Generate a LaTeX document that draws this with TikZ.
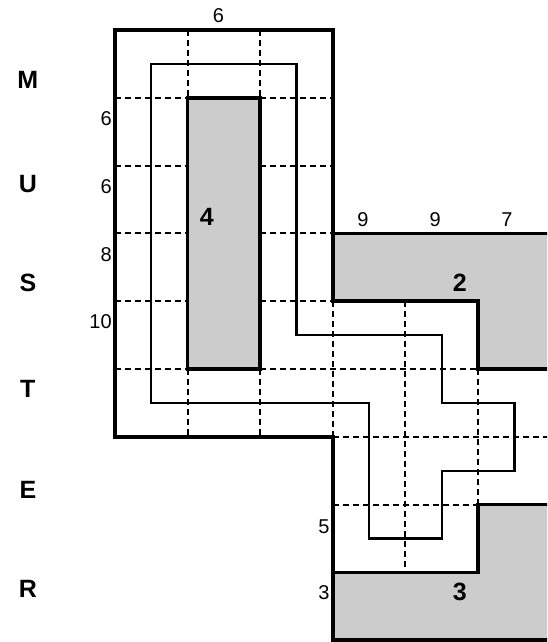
\documentclass[tikz,border=0pt]{standalone}
\usepackage{fontspec}
\setmainfont{Liberation Sans}
\definecolor{blockgray}{gray}{0.8}

\begin{document}
\begin{tikzpicture}[x=18.15pt,y=-16.95pt,
	wall/.style={line width=1.75pt},
	route/.style={line width=1.2pt},
	grid/.style={line width=0.95pt,dash pattern=on 3pt off 2pt},
	num/.style={font=\fontsize{10}{12}\selectfont,inner sep=0pt},
	big/.style={font=\fontsize{12.5}{14}\selectfont\bfseries,inner sep=0pt}]
	\useasboundingbox (-3.168,-0.885) rectangle (11.901,18.053);
	\clip (-3.168,-0.885) rectangle (11.901,18.053);
	% grey blocks
	\fill[blockgray] (2,2) rectangle (4,10);
	\fill[blockgray] (6,6) -- (12,6) -- (12,10) -- (10,10) -- (10,8) -- (6,8) -- cycle;
	\fill[blockgray] (6,16) -- (10,16) -- (10,14) -- (12,14) -- (12,18) -- (6,18) -- cycle;
	% dashed grid
	\draw[grid] (2,0) -- (2,2);
	\draw[grid] (4,0) -- (4,2);
	\draw[grid] (2,10) -- (2,12);
	\draw[grid] (4,10) -- (4,12);
	\draw[grid] (0,2) -- (2,2) (4,2) -- (6,2);
	\draw[grid] (0,4) -- (2,4) (4,4) -- (6,4);
	\draw[grid] (0,6) -- (2,6) (4,6) -- (6,6);
	\draw[grid] (0,8) -- (2,8) (4,8) -- (6,8);
	\draw[grid] (0,10) -- (2,10) (4,10) -- (10,10);
	\draw[grid] (6,8) -- (6,12);
	\draw[grid] (6,12) -- (12,12);
	\draw[grid] (8,8) -- (8,16);
	\draw[grid] (10,10) -- (10,14);
	\draw[grid] (6,14) -- (10,14);
	% walls
	\draw[wall] (6,6) -- (6,0) -- (0,0) -- (0,12) -- (6,12) -- (6,18) -- (12,18);
	\draw[wall] (2,2) rectangle (4,10);
	\draw[wall] (12,6) -- (6,6) -- (6,8) -- (10,8) -- (10,10) -- (12,10);
	\draw[wall] (6,16) -- (10,16) -- (10,14) -- (12,14);
	% route
	\draw[route] (1,1) -- (5,1) -- (5,9) -- (9,9) -- (9,11) -- (11,11) -- (11,13)
		-- (9,13) -- (9,15) -- (7,15) -- (7,11) -- (1,11) -- cycle;
	% labels
	\node[num] (top) at (2.85,-0.41) {6};
	\node[num,anchor=east] (l1) at (-0.08,2.6) {6};
	\node[num,anchor=east] (l2) at (-0.08,4.63) {6};
	\node[num,anchor=east] (l3) at (-0.08,6.64) {8};
	\node[num,anchor=east] (l4) at (-0.08,8.6) {10};
	\node[num] (t1) at (6.83,5.6) {9};
	\node[num] (t2) at (8.82,5.6) {9};
	\node[num] (t3) at (10.8,5.6) {7};
	\node[num,anchor=east] (b1) at (5.92,14.66) {5};
	\node[num,anchor=east] (b2) at (5.92,16.6) {3};
	\node[big] (n4) at (2.53,5.52) {4};
	\node[big] (n2) at (9.5,7.46) {2};
	\node[big] (n3) at (9.5,16.58) {3};
	\node[big] (m) at (-2.4,1.47) {M};
	\node[big] (u) at (-2.4,4.54) {U};
	\node[big] (s) at (-2.4,7.46) {S};
	\node[big] (t) at (-2.4,10.6) {T};
	\node[big] (e) at (-2.4,13.57) {E};
	\node[big] (r) at (-2.4,16.5) {R};
\end{tikzpicture}
\end{document}
